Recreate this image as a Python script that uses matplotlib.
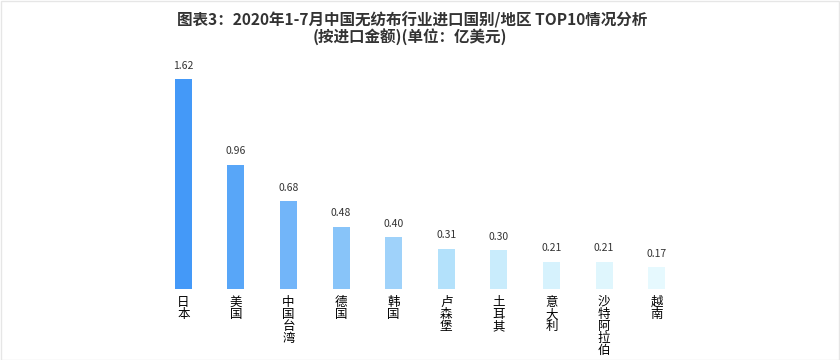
import matplotlib
matplotlib.use("Agg")
import matplotlib.pyplot as plt
from matplotlib.patches import Rectangle

plt.rcParams['font.family'] = ['Noto Sans CJK SC', 'DejaVu Sans']

regions = ["日本", "美国", "中国台湾", "德国", "韩国", "卢森堡", "土耳其", "意大利", "沙特阿拉伯", "越南"]
values = [1.62, 0.96, 0.68, 0.48, 0.40, 0.31, 0.30, 0.21, 0.21, 0.17]
colors = ["#4499f8", "#58a6f8", "#72b5f9", "#88c4f9", "#9fd2fa", "#b3e1fb",
          "#c9ecfc", "#d6f2fd", "#dff6fd", "#e6f9fe"]

W, H = 840, 360
fig = plt.figure(figsize=(W / 100, H / 100), dpi=100)
fig.patch.set_facecolor("white")

# axes placed in pixel terms
left, right, bottom, top = 157, 683, 289, 60
ax = fig.add_axes([left / W, 1 - bottom / H, (right - left) / W, (bottom - top) / H])
x = range(len(regions))
ax.bar(x, values, width=0.32, color=colors)
ax.set_xlim(-0.5, len(regions) - 0.5)
ax.set_ylim(0, 1.767)
for s in ax.spines.values():
    s.set_visible(False)
ax.set_yticks([])
ax.set_xticks(list(x))
ax.set_xticklabels(["\n".join(r) for r in regions], fontsize=9, color="#000000",
                   va="top", linespacing=0.9)
ax.tick_params(axis="x", length=0, pad=5)

for i, v in enumerate(values):
    ax.annotate(f"{v:.2f}", (i, v), xytext=(0, 6), textcoords="offset points",
                ha="center", va="bottom", fontsize=7.5, color="#333333")

fig.text(412 / W, 1 - 20 / H, "图表3：2020年1-7月中国无纺布行业进口国别/地区 TOP10情况分析",
         ha="center", va="center", fontsize=11.2, fontweight="bold", color="#333333")
fig.text(410 / W, 1 - 37 / H, "(按进口金额)(单位：亿美元)",
         ha="center", va="center", fontsize=11.2, fontweight="bold", color="#333333")

fig.add_artist(Rectangle((0.5 / W, 0.5 / H), 1 - 1.5 / W, 1 - 1.5 / H, transform=fig.transFigure,
                         fill=False, edgecolor="#e6e6e6", linewidth=1))

fig.savefig("out.png", dpi=100)
